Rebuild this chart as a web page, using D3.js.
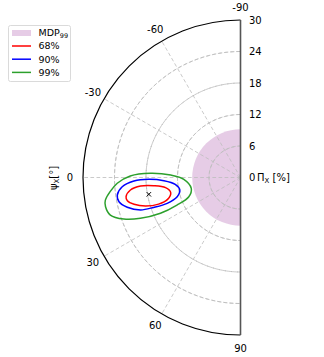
<!DOCTYPE html>
<html>
<meta charset="utf-8" />
<script src="https://cdn.jsdelivr.net/npm/d3@7"></script>
<style>
  html, body { margin: 0; padding: 0; background: #fff; }
  svg text { font-family: "DejaVu Sans", sans-serif; font-size: 10px; fill: #000; }
  .legend text { font-size: 9.5px; }
  .grid { fill: none; stroke: #bdbdbd; stroke-width: 0.8px; stroke-dasharray: 3.7 2.4; }
</style>
<body>
<div id="chart"></div>
<script>
// angle ticks (deg) and radial ticks (%)
var angleTicks = [-90, -60, -30, 0, 30, 60, 90];
var radTicks = [0, 6, 12, 18, 24, 30];
var mdp99 = 9.2;
var best = [10.4, 17.75]; // [psi, PD]

// contours: [psi deg, PD %]
var c68 = [[9.5, 22.1], [6.5, 21.1], [4.9, 19.1], [5.4, 16.6], [7.7, 14.4], [12.2, 13.6],
  [16.7, 14.5], [18.0, 16.4], [16.7, 18.9], [14.1, 20.9], [11.6, 22.0]];
var c90 = [[8.1, 23.7], [4.5, 22.6], [1.9, 20.3], [1.1, 17.5], [2.4, 14.6], [6.0, 12.5],
  [11.6, 11.8], [16.9, 12.6], [19.4, 14.8], [19.0, 17.5], [18.0, 20.0], [14.7, 22.3], [11.3, 23.6]];
var c99 = [[9.5, 26.1], [2.7, 23.5], [-0.8, 21.0], [-2.7, 17.2], [-2.0, 13.3], [1.8, 10.8],
  [12.4, 9.6], [20.4, 10.5], [23.5, 13.2], [24.1, 16.7], [22.2, 20.6], [19.6, 23.6],
  [16.1, 25.8], [12.2, 26.3]];
var contours = [
  { name: '68%', color: '#ff0000', pts: c68 },
  { name: '90%', color: '#0000ff', pts: c90 },
  { name: '99%', color: '#2ca02c', pts: c99 },
];

var W = 324, H = 357, cx = 240.5, cy = 177.5, R = 157.5;

var svg = d3.select('#chart').append('svg').attr('width', W).attr('height', H);
var g = svg.append('g').attr('transform', 'translate(' + cx + ',' + cy + ')');

var r = d3.scaleLinear().domain([0, 30]).range([0, R]);
// d3 radial angle: 0 = up, clockwise. psi -90 -> up, 0 -> left, 90 -> down
var theta = d3.scaleLinear().domain([-90, 90]).range([0, -Math.PI]);
function xy(psi, v) {
  var a = theta(psi);
  return [v * Math.sin(a), -v * Math.cos(a)];
}

var arc = d3.arc().startAngle(theta(-90)).endAngle(theta(90));

// MDP disk, only the half inside the axes
g.append('path')
  .attr('d', arc({ innerRadius: 0, outerRadius: r(mdp99) }))
  .attr('fill', '#800080').attr('fill-opacity', 0.2);

// grid circles
g.selectAll('path.gc').data(radTicks.slice(1, -1)).enter().append('path')
  .attr('class', 'grid')
  .attr('d', function (d) { return arc({ innerRadius: r(d), outerRadius: r(d) }); });

// grid spokes
g.selectAll('line.sp').data(angleTicks.slice(1, -1)).enter().append('line')
  .attr('class', 'grid')
  .attr('x1', 0).attr('y1', 0)
  .attr('x2', function (d) { return xy(d, R)[0]; })
  .attr('y2', function (d) { return xy(d, R)[1]; });

// contours
var line = d3.lineRadial()
  .angle(function (d) { return theta(d[0]); })
  .radius(function (d) { return r(d[1]); })
  .curve(d3.curveCatmullRomClosed);
g.selectAll('path.ct').data(contours).enter().append('path')
  .attr('fill', 'none')
  .attr('stroke', function (d) { return d.color; })
  .attr('stroke-width', 1.5)
  .attr('d', function (d) { return line(d.pts); });

// best fit marker
var bp = xy(best[0], r(best[1]));
g.append('path')
  .attr('d', 'M-2.2,-2.2L2.2,2.2M-2.2,2.2L2.2,-2.2')
  .attr('transform', 'translate(' + bp[0] + ',' + bp[1] + ')')
  .attr('stroke', '#000').attr('stroke-width', 1);

// outer arc and straight spine
g.append('path')
  .attr('d', arc({ innerRadius: R, outerRadius: R }))
  .attr('fill', 'none').attr('stroke', '#000').attr('stroke-width', 1.2);
g.append('line')
  .attr('x1', 0).attr('x2', 0).attr('y1', -R).attr('y2', R)
  .attr('stroke', '#555').attr('stroke-width', 1.6);

// angle labels
g.selectAll('text.at').data(angleTicks).enter().append('text')
  .attr('text-anchor', 'middle').attr('dy', '0.35em')
  .attr('x', function (d) { return xy(d, R + 13)[0]; })
  .attr('y', function (d) { return xy(d, R + 13)[1]; })
  .text(function (d) { return d; });

// radial labels
g.selectAll('text.rt').data(radTicks).enter().append('text')
  .attr('x', 8.5).attr('y', function (d) { return -r(d); }).attr('dy', '0.35em')
  .text(function (d) { return d; });

// radial axis label
var pl = g.append('text').attr('x', 16.5).attr('y', 0).attr('dy', '0.35em');
pl.append('tspan').text('Π');
pl.append('tspan').attr('font-size', '7px').attr('dy', '2').text('X');
pl.append('tspan').attr('dy', '-2').text('\u00a0[%]');

// angular axis label
var al = svg.append('text')
  .attr('transform', 'translate(56.5,178) rotate(-90)')
  .attr('text-anchor', 'middle');
al.append('tspan').text('ψ');
al.append('tspan').attr('font-size', '7px').attr('dy', '2').text('X');
al.append('tspan').attr('dy', '-2').text('[°]');

// legend
var lg = svg.append('g').attr('class', 'legend').attr('transform', 'translate(8.5,25.5)');
lg.append('rect').attr('width', 62).attr('height', 56).attr('rx', 2)
  .attr('fill', '#fff').attr('fill-opacity', 0.8).attr('stroke', '#d0d0d0').attr('stroke-width', 0.8);
lg.append('rect').attr('x', 3.5).attr('y', 4.5).attr('width', 19).attr('height', 6)
  .attr('fill', '#800080').attr('fill-opacity', 0.2);
var mt = lg.append('text').attr('x', 30).attr('y', 7.5).attr('dy', '0.35em');
mt.append('tspan').text('MDP');
mt.append('tspan').attr('font-size', '6.5px').attr('dy', '2').text('99');
var rows = lg.selectAll('g.row').data(contours).enter().append('g')
  .attr('transform', function (d, i) { return 'translate(0,' + (20.5 + i * 13.2) + ')'; });
rows.append('line').attr('x1', 3.5).attr('x2', 22.5)
  .attr('stroke', function (d) { return d.color; }).attr('stroke-width', 1.5);
rows.append('text').attr('x', 30).attr('dy', '0.35em').text(function (d) { return d.name; });
</script>
</body>
</html>
